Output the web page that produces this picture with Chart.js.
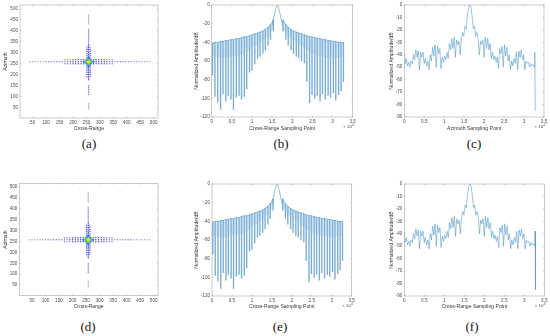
<!DOCTYPE html>
<html>
<head>
<meta charset="utf-8">
<script src="https://cdn.jsdelivr.net/npm/chart.js@4.4.0/dist/chart.umd.min.js"></script>
<style>
body { margin: 0; background: #fff; width: 550px; height: 336px; position: relative; overflow: hidden; }
.panel { position: absolute; }
.cap { position: absolute; width: 40px; margin-left: -20px; text-align: center;
       font: 13px "Liberation Serif", "Times New Roman", serif; color: #111; line-height: 16px; }
</style>
</head>
<body>
<div class="panel" id="pa" style="left:0px;top:0px;width:162px;height:132px"><canvas id="ca"></canvas></div>
<div class="panel" id="pb" style="left:190px;top:0px;width:170px;height:132px"><canvas id="cb"></canvas></div>
<div class="panel" id="pc" style="left:385px;top:0px;width:165px;height:132px"><canvas id="cc"></canvas></div>
<div class="panel" id="pd" style="left:0px;top:178px;width:162px;height:132px"><canvas id="cd"></canvas></div>
<div class="panel" id="pe" style="left:190px;top:178px;width:170px;height:132px"><canvas id="ce"></canvas></div>
<div class="panel" id="pf" style="left:385px;top:178px;width:165px;height:132px"><canvas id="cf"></canvas></div>

<div class="cap" style="left:89px;top:136px">(a)</div>
<div class="cap" style="left:281px;top:136px">(b)</div>
<div class="cap" style="left:474px;top:136px">(c)</div>
<div class="cap" style="left:88px;top:319px">(d)</div>
<div class="cap" style="left:280px;top:319px">(e)</div>
<div class="cap" style="left:472px;top:319px">(f)</div>

<script>
// ---- point target image (a)/(d) ----
var psfRow = 258, psfCol = 258;
var rangeCutX  = [40,50,60,70,80,90,100,110,120,130,140,150,160,170,180,190,200,210,220,230,240,
                  276,286,296,306,316,326,336,346,356,366,376,386,396,406,416,426,436,446,456,466,476,486];
var rangeCutDb = [-38,-38,-37,-37,-36,-36,-35,-35,-34,-33,-32,-31,-30,-29,-28,-27,-25,-23,-21,-19,-16,
                  -16,-19,-21,-23,-25,-27,-28,-29,-30,-31,-32,-33,-34,-35,-35,-36,-36,-37,-37,-38,-38,-38];
var azCutY  = [42,50,58,66, 108,116,124,132,140,148, 176,184,192,200,208,216,224,232,240,248,
               268,276,284,292,300,308,316,324,332,340, 350,358,366,374,382,390,398,406, 432,440,448,456,464,472];
var azCutDb = [-38,-38,-38,-37, -35,-35,-34,-34,-33,-33, -26,-25,-24,-22,-20,-19,-17,-15,-13,-11,
               -11,-13,-15,-17,-19,-21,-23,-25,-26,-27, -30,-31,-32,-33,-33,-34,-34,-35, -37,-38,-38,-38,-38,-38];
var coreRowsY = [249, 267];
var coreRowX  = [170,180,190,200,210,220,230,240,276,286,296,306,316,326,336,346];
var coreRowDb = [-31,-30,-28,-26,-24,-22,-19,-16,-16,-19,-22,-24,-26,-28,-30,-31];
var coreColsX = [252, 264];
var coreColY  = [190,200,210,220,230,240,276,286,296,306,316,326];
var coreColDb = [-28,-25,-22,-20,-17,-15,-15,-17,-20,-22,-25,-28];
var blobX  = [258,253,263,258,258,248,268,258,258,250,266,250,266,240,276,258,258];
var blobY  = [258,258,258,253,263,258,258,248,268,250,250,266,266,258,258,240,276];
var blobDb = [0,-3,-3,-3,-3,-8,-8,-8,-8,-12,-12,-12,-12,-13,-13,-13,-13];
var imgTicks = [50,100,150,200,250,300,350,400,450,500];

// ---- cross-range profile (b)/(e), x in units of 1e4 samples ----
var rangeLeftX   = [0.02,0.08,0.15,0.22,0.28,0.35,0.41,0.48,0.54,0.61,0.68,0.74,0.81,0.87,0.94,1.00,1.07,1.14,1.20,1.27,1.33,1.40,1.46,1.53];
var rangeLeftTop = [-41,-40,-40,-39,-39,-38,-38,-37,-37,-36,-36,-35,-34,-34,-33,-32,-31,-30,-29,-28,-26,-24,-21,-16];
var rangeLeftLow = [-75,-98,-104,-112,-95,-103,-97,-101,-112,-99,-97,-101,-98,-90,-72,-70,-63,-57,-55,-52,-48,-43,-37,-28];
var rangeLeftFloor = [-55,-56,-57,-57,-57,-57,-56,-56,-55,-55,-54,-53,-52,-50,-48,-46,-44,-42,-40,-38,-36,-33,-30,-25];
var rangeRightX   = [1.77,1.84,1.90,1.97,2.03,2.10,2.16,2.23,2.30,2.36,2.43,2.49,2.56,2.62,2.69,2.75,2.82,2.89,2.95,3.02,3.08,3.15,3.21,3.27];
var rangeRightTop = [-16,-21,-24,-26,-28,-29,-30,-31,-32,-33,-34,-34,-35,-36,-36,-37,-37,-38,-38,-39,-39,-40,-40,-40];
var rangeRightLow = [-28,-37,-43,-48,-52,-55,-57,-60,-62,-82,-105,-96,-100,-97,-103,-95,-101,-97,-99,-94,-102,-96,-92,-82];
var rangeRightFloor = [-25,-30,-33,-36,-38,-40,-42,-44,-46,-48,-50,-52,-53,-54,-55,-55,-56,-56,-57,-57,-57,-56,-56,-55];
var rangePeakX = [1.50,1.53,1.56,1.59,1.625,1.65,1.68,1.71,1.74,1.77];
var rangePeakY = [-22,-16,-10,-4,0,-1,-6,-12,-18,-22];
var rangeXTicks = [0,0.5,1,1.5,2,2.5,3,3.5];
var rangeYTicks = [0,-20,-40,-60,-80,-100,-120];

// ---- azimuth profile (c)/(f) ----
var azX = [0.00,0.02,0.05,0.08,0.11,0.14,0.17,0.20,0.23,0.26,0.29,0.32,0.35,0.38,0.41,0.44,0.47,0.50,0.53,0.56,
           0.59,0.62,0.65,0.68,0.71,0.74,0.77,0.80,0.83,0.86,0.89,0.92,0.95,0.98,1.01,1.04,1.07,1.10,1.13,1.16,
           1.19,1.22,1.25,1.28,1.31,1.34,1.37,1.40,1.43,1.46,1.49,1.52,1.55,1.58,1.61,1.64,1.67,1.70,1.73,1.76,
           1.79,1.82,1.85,1.88,1.91,1.94,1.97,2.00,2.03,2.06,2.09,2.12,2.15,2.18,2.21,2.24,2.27,2.30,2.33,2.36,
           2.39,2.42,2.45,2.48,2.51,2.54,2.57,2.60,2.63,2.66,2.69,2.72,2.75,2.78,2.81,2.84,2.87,2.90,2.93,2.96,
           2.99,3.02,3.05,3.08,3.11,3.14,3.17,3.20,3.23,3.26,3.27,3.28];
var azY = [-38,-47,-43,-49,-46,-50,-45,-47,-40,-44,-36,-42,-37,-52,-38,-42,-38,-47,-43,-49,
           -45,-52,-40,-45,-34,-41,-32,-50,-33,-39,-35,-51,-42,-46,-41,-44,-38,-43,-31,-36,
           -27,-35,-26,-42,-28,-32,-29,-40,-27,-22,-25,-17,-19,-9,-2,0,-2,-9,-19,-17,
           -25,-22,-27,-40,-29,-32,-28,-42,-26,-35,-27,-36,-31,-43,-38,-44,-41,-46,-42,-51,
           -35,-39,-33,-50,-32,-41,-34,-45,-40,-52,-45,-49,-43,-47,-38,-52,-37,-42,-36,-44,
           -40,-52,-45,-47,-46,-50,-47,-49,-48,-50,-38,-85];
var azXTicks = [0,0.5,1,1.5,2,2.5,3,3.5];
var azYTicks = [0,-10,-20,-30,-40,-50,-60,-70,-80,-90];

// ---- drawing ----
var fam = '"Liberation Sans", Arial, sans-serif';
var tickFont = { family: fam, size: 4.6 };
var titleFont = { family: fam, size: 5.1 };
var lineBlue = '#4a92c8';

var framePlugin = {
    id: 'frame',
    afterDraw: function (chart, args, opts) {
        var ctx = chart.ctx, a = chart.chartArea, sx = chart.scales.x, sy = chart.scales.y;
        ctx.save();
        ctx.strokeStyle = '#a8a8a8';
        ctx.lineWidth = 0.6;
        ctx.strokeRect(a.left, a.top, a.right - a.left, a.bottom - a.top);
        ctx.beginPath();
        sx.ticks.forEach(function (t) {
            var p = sx.getPixelForValue(t.value);
            ctx.moveTo(p, a.bottom); ctx.lineTo(p, a.bottom - 1.3);
            ctx.moveTo(p, a.top); ctx.lineTo(p, a.top + 1.3);
        });
        sy.ticks.forEach(function (t) {
            var p = sy.getPixelForValue(t.value);
            ctx.moveTo(a.left, p); ctx.lineTo(a.left + 1.3, p);
            ctx.moveTo(a.right, p); ctx.lineTo(a.right - 1.3, p);
        });
        ctx.stroke();
        if (opts && opts.exponent) {
            ctx.fillStyle = '#4a4a4a';
            ctx.textBaseline = 'middle';
            ctx.textAlign = 'right';
            ctx.font = '3.3px ' + fam;
            ctx.fillText(opts.exponent, a.right + 1.2, a.bottom + 8.2);
            ctx.font = '4.4px ' + fam;
            ctx.fillText('\u00d7 10', a.right - 0.8, a.bottom + 9.6);
        }
        ctx.restore();
    }
};

function makeChart(id, box, xs, ys, datasets, exponent) {
    return new Chart(document.getElementById(id), {
        type: 'scatter',
        data: { datasets: datasets },
        options: {
            responsive: true,
            maintainAspectRatio: false,
            animation: false,
            events: [],
            layout: { padding: box.pad },
            plugins: { legend: { display: false }, tooltip: { enabled: false }, frame: { exponent: exponent } },
            scales: {
                x: {
                    type: 'linear', min: xs.min, max: xs.max, offset: false,
                    afterBuildTicks: function (s) { s.ticks = xs.ticks.map(function (v) { return { value: v }; }); },
                    afterFit: function (s) { s.height = box.xH; },
                    grid: { display: false, drawTicks: false }, border: { display: false },
                    ticks: { font: tickFont, color: '#4a4a4a', padding: 2, maxRotation: 0, autoSkip: false,
                             callback: function (v) { return String(v); } },
                    title: { display: true, text: xs.title, font: titleFont, color: '#333', padding: 0 }
                },
                y: {
                    type: 'linear', min: ys.min, max: ys.max,
                    afterBuildTicks: function (s) { s.ticks = ys.ticks.map(function (v) { return { value: v }; }); },
                    afterFit: function (s) { s.width = box.yW; },
                    grid: { display: false, drawTicks: false }, border: { display: false },
                    ticks: { font: tickFont, color: '#4a4a4a', padding: 2, autoSkip: false,
                             callback: function (v) { return String(v); } },
                    title: { display: true, text: ys.title, font: titleFont, color: '#333', padding: 0 }
                }
            }
        },
        plugins: [framePlugin]
    });
}

function levelColor(db) {
    if (db > -2) return '#f5e020';
    if (db > -5) return '#8fd044';
    if (db > -10) return '#2fbfb0';
    if (db > -14) return '#2a6fe8';
    if (db > -28) return 'rgba(50,45,225,0.85)';
    if (db > -36) return 'rgba(75,65,200,0.65)';
    return 'rgba(90,90,115,0.5)';
}

function psfDatasets() {
    var pts = [];
    rangeCutX.forEach(function (x, i) { pts.push({ x: x, y: psfRow, db: rangeCutDb[i] }); });
    azCutY.forEach(function (y, i) { pts.push({ x: psfCol, y: y, db: azCutDb[i] }); });
    coreRowsY.forEach(function (y) {
        coreRowX.forEach(function (x, i) { pts.push({ x: x, y: y, db: coreRowDb[i] }); });
    });
    coreColsX.forEach(function (x) {
        coreColY.forEach(function (y, i) { pts.push({ x: x, y: y, db: coreColDb[i] }); });
    });
    blobX.forEach(function (x, i) { pts.push({ x: x, y: blobY[i], db: blobDb[i] }); });
    pts.sort(function (p, q) { return p.db - q.db; });
    return [{
        data: pts,
        pointRadius: function (c) { return c.raw.db > -10 ? 1.5 : (c.raw.db > -14 ? 1.1 : 0.75); },
        pointStyle: 'circle',
        borderWidth: 0,
        backgroundColor: function (c) { return levelColor(c.raw.db); }
    }];
}

function rangeDatasets() {
    var env = [], floor = [], bars = [], peak = [];
    rangeLeftX.forEach(function (x, i) {
        env.push({ x: x, y: rangeLeftTop[i] });
        floor.push({ x: x, y: rangeLeftFloor[i] });
        bars.push({ x: x, y: [rangeLeftLow[i], rangeLeftTop[i]] });
    });
    env.push({ x: 1.65, y: null });
    floor.push({ x: 1.65, y: null });
    rangeRightX.forEach(function (x, i) {
        env.push({ x: x, y: rangeRightTop[i] });
        floor.push({ x: x, y: rangeRightFloor[i] });
        bars.push({ x: x, y: [rangeRightLow[i], rangeRightTop[i]] });
    });
    rangePeakX.forEach(function (x, i) { peak.push({ x: x, y: rangePeakY[i] }); });
    return [
        { type: 'line', data: env, borderColor: lineBlue, borderWidth: 0.5, pointRadius: 0, spanGaps: false,
          fill: '+1', backgroundColor: 'rgba(140,185,220,0.35)' },
        { type: 'line', data: floor, borderWidth: 0, borderColor: 'rgba(0,0,0,0)', pointRadius: 0, spanGaps: false, fill: false },
        { type: 'bar', data: bars, backgroundColor: 'rgba(75,145,200,0.75)', barThickness: 0.7 },
        { type: 'line', data: peak, borderColor: lineBlue, borderWidth: 0.6, pointRadius: 0, fill: false }
    ];
}

function azDatasets() {
    var pts = azX.map(function (x, i) { return { x: x, y: azY[i] }; });
    return [{ type: 'line', data: pts, borderColor: lineBlue, borderWidth: 0.55, pointRadius: 0, fill: false }];
}

var imgX = { min: 3, max: 516, ticks: imgTicks, title: 'Cross-Range' };
var imgY = { min: 1, max: 518, ticks: imgTicks, title: 'Azimuth' };
var profY1 = { min: -120, max: 0, ticks: rangeYTicks, title: 'Normalized Amplitude/dB' };
var profY2 = { min: -90, max: 0, ticks: azYTicks, title: 'Normalized Amplitude/dB' };

makeChart('ca', { pad: { left: 2.7, right: 2.7, top: 5, bottom: 0 }, yW: 17.3, xH: 14 }, imgX, imgY, psfDatasets());
makeChart('cb', { pad: { left: 4, right: 7.3, top: 5, bottom: 0 }, yW: 17.7, xH: 15 },
    { min: 0, max: 3.5, ticks: rangeXTicks, title: 'Cross-Range Sampling Point' }, profY1, rangeDatasets(), '4');
makeChart('cc', { pad: { left: 4, right: 6, top: 5, bottom: 0 }, yW: 15.3, xH: 15 },
    { min: 0, max: 3.5, ticks: azXTicks, title: 'Azimuth Sampling Point' }, profY2, azDatasets(), '4');
makeChart('cd', { pad: { left: 2.7, right: 2.7, top: 5.3, bottom: 0 }, yW: 16.6, xH: 14.3 }, imgX, imgY, psfDatasets());
makeChart('ce', { pad: { left: 3.4, right: 8.3, top: 6, bottom: 0 }, yW: 18.6, xH: 14 },
    { min: 0, max: 3.5, ticks: rangeXTicks, title: 'Cross-Range Sampling Point' }, profY1, rangeDatasets(), '4');
makeChart('cf', { pad: { left: 4, right: 5.7, top: 6, bottom: 0 }, yW: 15.3, xH: 14 },
    { min: 0, max: 3.5, ticks: azXTicks, title: 'Cross-Range Sampling Point' }, profY2, azDatasets(), '4');
</script>
</body>
</html>
